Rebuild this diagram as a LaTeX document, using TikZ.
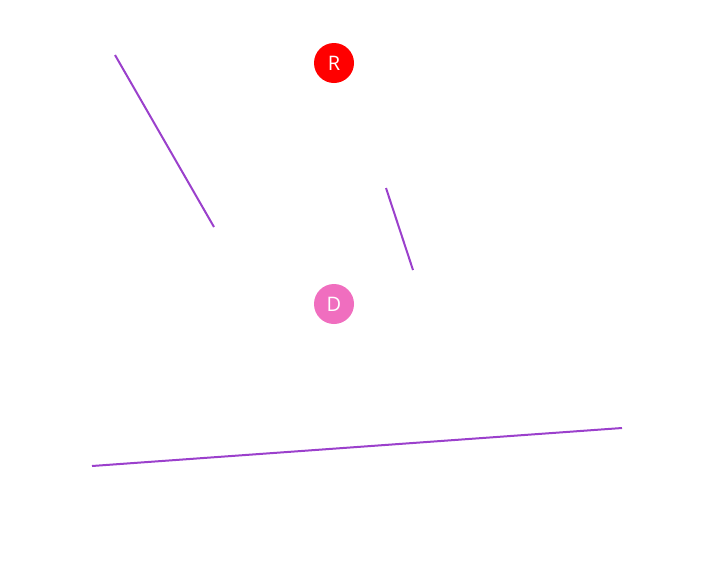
\documentclass[tikz,border=0pt]{standalone}
\usepackage{fontspec}
\setmainfont{Open Sans}
\definecolor{rcol}{HTML}{FF0000}
\definecolor{dcol}{HTML}{F06EBF}
\definecolor{lcol}{HTML}{9B40CC}
\begin{document}
\begin{tikzpicture}[x=1pt,y=-1pt,
  dot/.style={circle,minimum size=40pt,inner sep=0pt,text=white,font=\fontsize{20}{20}\selectfont},
  seg/.style={draw=lcol,line width=2pt}]
\useasboundingbox[fill=white] (0,0) rectangle (718,563);
\node[dot,fill=rcol] (R) at (334,63) {R};
\node[dot,fill=dcol] (D) at (334,304) {D};
\coordinate (a1) at (115,55);
\coordinate (a2) at (214,227);
\coordinate (b1) at (386,188);
\coordinate (b2) at (413,270);
\coordinate (c1) at (92,466);
\coordinate (c2) at (622,428);
\draw[seg] (a1) -- (a2);
\draw[seg] (b1) -- (b2);
\draw[seg] (c1) -- (c2);
\end{tikzpicture}
\end{document}
